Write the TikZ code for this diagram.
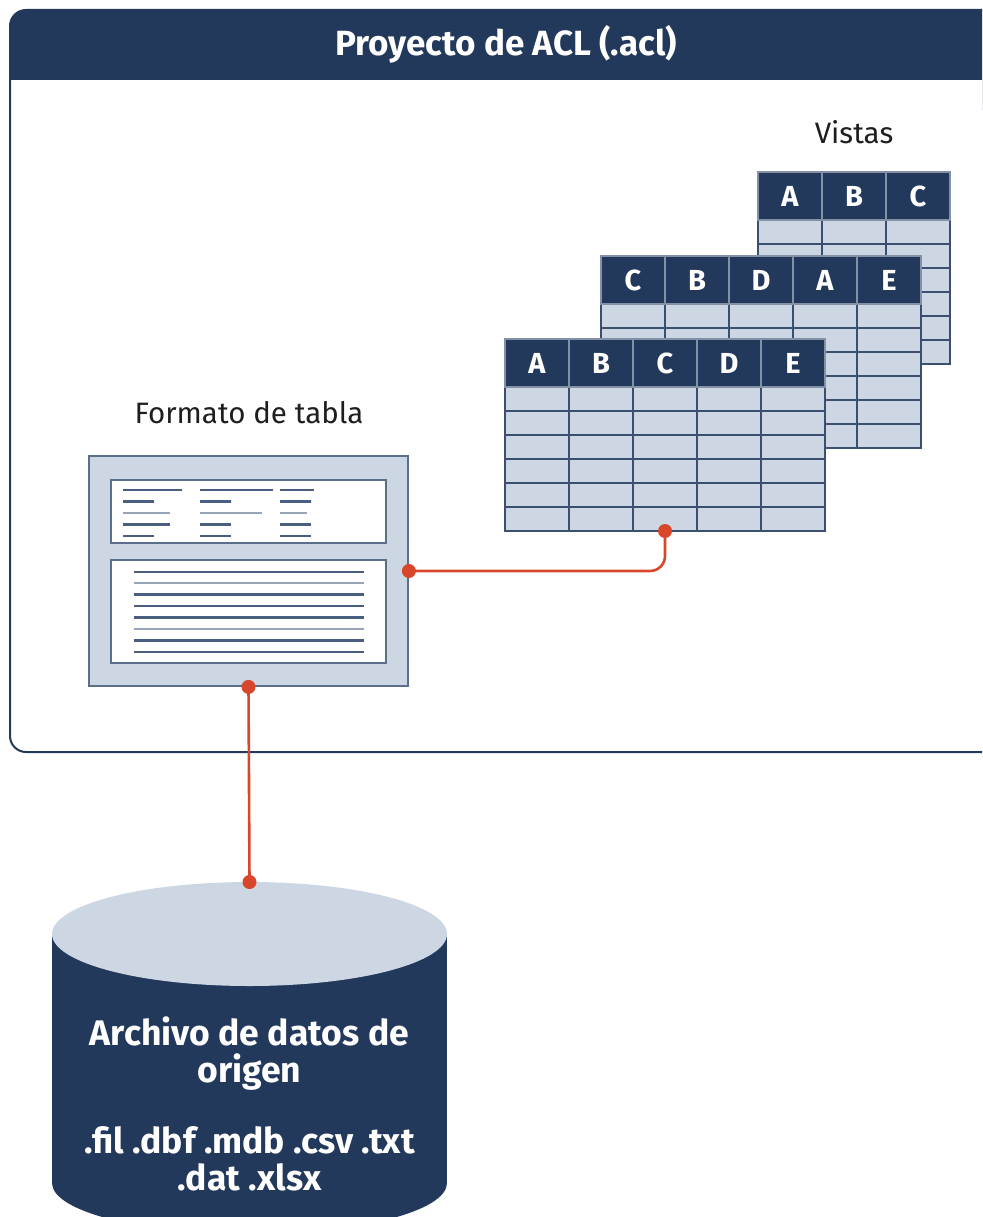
\documentclass[tikz,border=0pt]{standalone}
\usepackage{fontspec}
\setmainfont{Fira Sans}
\definecolor{navy}{HTML}{22395B}
\definecolor{pale}{HTML}{CDD6E3}
\definecolor{edgec}{HTML}{5B6E8C}
\definecolor{gridc}{HTML}{3B506F}
\definecolor{lineA}{HTML}{4A5F80}
\definecolor{lineB}{HTML}{98A5B8}
\definecolor{redc}{HTML}{D8472C}
\definecolor{hdiv}{HTML}{8391A6}
\definecolor{txt}{HTML}{1E1E1E}
\newcommand\drawview[4]{% x0, y0, ncols, letters
  \fill[pale] (#1,#2+48) rectangle (#1+64*#3,#2+192);
  \foreach \r in {1,...,5} \draw[gridline] (#1,#2+48+24*\r) -- (#1+64*#3,#2+48+24*\r);
  \foreach \c in {1,...,#3} \draw[gridline] (#1+64*\c-64,#2+48) -- (#1+64*\c-64,#2+192);
  \draw[gridline] (#1,#2+48) rectangle (#1+64*#3,#2+192);
  \foreach \l [count=\k] in {#4}
    \node[hcell] (h#1-\k) at (#1+64*\k-32,#2+24) {\l};
}
\begin{document}
\begin{tikzpicture}[x=1pt,y=-1pt,
  title/.style={text=white,font=\fontsize{35}{40}\selectfont\bfseries},
  label/.style={text=txt,font=\fontsize{29.5}{34}\selectfont},
  hcell/.style={fill=navy,draw=hdiv,line width=1.2pt,minimum width=64pt,minimum height=48pt,inner sep=0pt,text=white,font=\fontsize{29}{34}\selectfont\bfseries},
  gridline/.style={draw=gridc,line width=1.8pt},
  fmtbox/.style={fill=pale,draw=edgec,line width=1.8pt,minimum width=319pt,minimum height=230pt,inner sep=0pt},
  inbox/.style={fill=white,draw=edgec,line width=1.8pt},
  dk/.style={draw=lineA,line width=2.2pt},
  lt/.style={draw=lineB,line width=2.2pt},
  conn/.style={draw=redc,line width=2.6pt},
  dot/.style={fill=redc},
  dbtext/.style={text=white,align=center,font=\fontsize{35.5}{37}\selectfont\bfseries}
]
\useasboundingbox (0,0) rectangle (982,1217);
\clip (0,0) rectangle (982,1217);
% project frame
\fill[navy,rounded corners=16] (10,10) rectangle (1010,110);
\fill[white] (11,80) rectangle (1009,140);
\draw[navy,line width=2pt,rounded corners=16] (10,10) rectangle (1010,752);
\node[title] (title) at (506,44) {Proyecto de ACL (.acl)};
% labels
\node[label] (vistas) at (854,132) {Vistas};
\node[label] (fmtlabel) at (249,413) {Formato de tabla};
% views
\drawview{758}{172}{3}{A,B,C}
\drawview{601}{256}{5}{C,B,D,A,E}
\drawview{505}{339}{5}{A,B,C,D,E}
\coordinate (vjoin) at (665,531);
% table format box
\node[fmtbox] (fmt) at (248.5,571) {};
\draw[inbox] (111,480) rectangle (386,543);
\draw[inbox] (111,560) rectangle (386,663);
\draw[dk] (123,490) -- (182,490) (200,490) -- (273,490) (280,490) -- (314,490);
\draw[dk] (123,501.5) -- (154,501.5) (200,501.5) -- (231,501.5) (280,501.5) -- (311,501.5);
\draw[lt] (123,513) -- (170,513) (200,513) -- (262,513) (280,513) -- (307,513);
\draw[dk] (123,524.5) -- (170,524.5) (200,524.5) -- (231,524.5) (280,524.5) -- (311,524.5);
\draw[dk] (123,536) -- (154,536) (200,536) -- (231,536) (280,536) -- (311,536);
\foreach \yy/\st in {572/dk,583/lt,594.5/dk,606/dk,617.5/dk,629/lt,640.5/dk,652/dk}
  \draw[\st] (134,\yy) -- (364,\yy);
% source data cylinder
\fill[navy] (52,934) rectangle (447,1183);
\fill[navy] (249.5,1183) ellipse (197.5 and 51);
\fill[pale] (249.5,934) ellipse (197.5 and 52);
\coordinate (dbtop) at (249.5,882);
\node[dbtext] (db) at (249.5,1104) {Archivo de datos de\\origen\\[34pt].fil .dbf .mdb .csv .txt\\.dat .xlsx};
% connectors
\draw[conn,rounded corners=15] (fmt.east) -| (vjoin);
\draw[conn] (fmt.south) -- (dbtop);
\fill[dot] (fmt.east) circle (7);
\fill[dot] (vjoin) circle (7);
\fill[dot] (fmt.south) circle (7);
\fill[dot] (dbtop) circle (7);
\end{tikzpicture}
\end{document}
